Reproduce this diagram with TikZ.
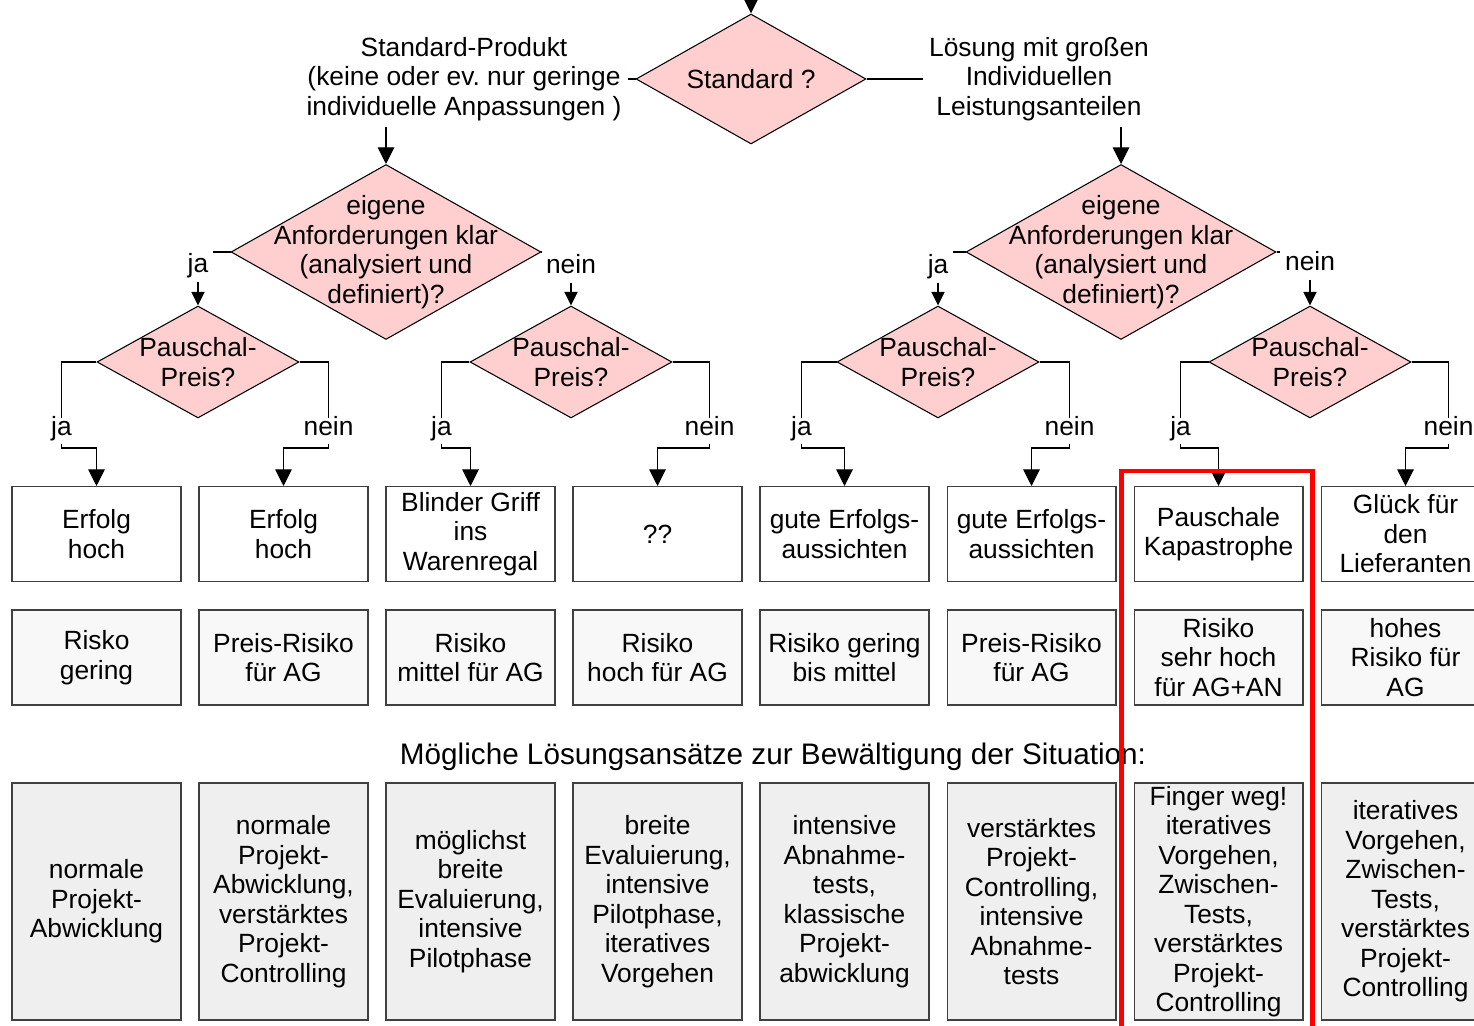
\documentclass[tikz,border=0pt]{standalone}
\usepackage{fontspec}
\setmainfont{Liberation Sans}
\usetikzlibrary{shapes.geometric,arrows.meta,calc}
\definecolor{rosa}{RGB}{255,207,207}
\definecolor{hellgrau}{RGB}{248,248,248}
\definecolor{mittelgrau}{RGB}{239,239,239}
\definecolor{rahmen}{RGB}{64,64,64}
\definecolor{hlrot}{RGB}{255,0,0}

\tikzset{
  frage/.style={diamond, draw, fill=rosa, inner sep=0pt, line width=0.6pt},
  ergebnis/.style={rectangle, draw=rahmen, line width=0.6pt, minimum width=3.38cm, minimum height=1.9cm, align=center, inner sep=0pt},
  risiko/.style={ergebnis, fill=hellgrau},
  ansatz/.style={ergebnis, fill=mittelgrau, minimum height=4.74cm},
  antwort/.style={fill=white, inner sep=2.5pt, text height=0.75em, text depth=0.25em},
  pfeil/.style={-{Triangle[length=9.5pt,width=9.5pt]}, line width=0.6pt},
  pfeilk/.style={-{Triangle[length=7.8pt,width=7.6pt]}, line width=0.6pt}
}

\begin{document}
\begin{tikzpicture}[x=0.02cm, y=-0.02cm, font=\fontsize{15}{16.8}\selectfont]
	\useasboundingbox (0,0) rectangle (1474,1026);

	% Entscheidungen
	\node[frage, minimum width=4.6cm, minimum height=2.6cm, label={center:Standard ?}] (std) at (751,79) {};
	\node[frage, minimum width=6.2cm, minimum height=3.5cm, label={[align=center]center:{eigene\\Anforderungen klar\\(analysiert und\\definiert)?}}] (eigL) at (386,252) {};
	\node[frage, minimum width=6.2cm, minimum height=3.5cm, label={[align=center]center:{eigene\\Anforderungen klar\\(analysiert und\\definiert)?}}] (eigR) at (1121,252) {};
	\node[frage, minimum width=4.04cm, minimum height=2.24cm, label={[align=center]center:{Pauschal-\\Preis?}}] (pA) at (198,362) {};
	\node[frage, minimum width=4.04cm, minimum height=2.24cm, label={[align=center]center:{Pauschal-\\Preis?}}] (pB) at (571,362) {};
	\node[frage, minimum width=4.04cm, minimum height=2.24cm, label={[align=center]center:{Pauschal-\\Preis?}}] (pC) at (938,362) {};
	\node[frage, minimum width=4.04cm, minimum height=2.24cm, label={[align=center]center:{Pauschal-\\Preis?}}] (pD) at (1310,362) {};

	\node[align=center] (stdtext) at (464,79) {Standard-Produkt\\(keine oder ev.\ nur geringe\\individuelle Anpassungen )};
	\node[align=center] (indtext) at (1039,79) {Lösung mit großen\\Individuellen\\Leistungsanteilen};

	\node[antwort] (jaL) at (198,268) {ja};
	\node[antwort] (neinL) at (571,269) {nein};
	\node[antwort] (jaR) at (938,269) {ja};
	\node[antwort] (neinR) at (1310,266) {nein};

	% Ergebnisse
	\node[ergebnis] (e1) at (96.5,534) {Erfolg\\hoch};
	\node[ergebnis] (e2) at (283.5,534) {Erfolg\\hoch};
	\node[ergebnis] (e3) at (470.5,534) {Blinder Griff\\ins\\Warenregal};
	\node[ergebnis] (e4) at (657.5,534) {??};
	\node[ergebnis] (e5) at (844.5,534) {gute Erfolgs-\\aussichten};
	\node[ergebnis] (e6) at (1031.5,534) {gute Erfolgs-\\aussichten};
	\node[ergebnis] (e7) at (1218.5,534) {Pauschale\\Kapastrophe};
	\node[ergebnis] (e8) at (1405.5,534) {Glück für\\den\\Lieferanten};

	\node[risiko] (r1) at (96.5,657.5) {Risko\\gering};
	\node[risiko] (r2) at (283.5,657.5) {Preis-Risiko\\für AG};
	\node[risiko] (r3) at (470.5,657.5) {Risiko\\mittel für AG};
	\node[risiko] (r4) at (657.5,657.5) {Risiko\\hoch für AG};
	\node[risiko] (r5) at (844.5,657.5) {Risiko gering\\bis mittel};
	\node[risiko] (r6) at (1031.5,657.5) {Preis-Risiko\\für AG};
	\node[risiko] (r7) at (1218.5,657.5) {Risiko\\sehr hoch\\für AG+AN};
	\node[risiko] (r8) at (1405.5,657.5) {hohes\\Risiko für\\AG};

	\node[font=\fontsize{16.9}{20}\selectfont] (loesung) at (773,757) {Mögliche Lösungsansätze zur Bewältigung der Situation:};

	\node[ansatz] (a1) at (96.5,901.5) {normale\\Projekt-\\Abwicklung};
	\node[ansatz] (a2) at (283.5,901.5) {normale\\Projekt-\\Abwicklung,\\verstärktes\\Projekt-\\Controlling};
	\node[ansatz] (a3) at (470.5,901.5) {möglichst\\breite\\Evaluierung,\\intensive\\Pilotphase};
	\node[ansatz] (a4) at (657.5,901.5) {breite\\Evaluierung,\\intensive\\Pilotphase,\\iteratives\\Vorgehen};
	\node[ansatz] (a5) at (844.5,901.5) {intensive\\Abnahme-\\tests,\\klassische\\Projekt-\\abwicklung};
	\node[ansatz] (a6) at (1031.5,901.5) {verstärktes\\Projekt-\\Controlling,\\intensive\\Abnahme-\\tests};
	\node[ansatz] (a7) at (1218.5,901.5) {Finger weg!\\iteratives\\Vorgehen,\\Zwischen-\\Tests,\\verstärktes\\Projekt-\\Controlling};
	\node[ansatz] (a8) at (1405.5,901.5) {iteratives\\Vorgehen,\\Zwischen-\\Tests,\\verstärktes\\Projekt-\\Controlling};

	% Verbindungen
	\coordinate (oben) at (751,-20);
	\draw[pfeilk] (oben) -- (std.north);
	\draw[line width=0.6pt] (std.west) -- (std.west -| stdtext.east);
	\draw[line width=0.6pt] (std.east) -- (std.east -| indtext.west);
	\draw[pfeil] (stdtext.south -| eigL.north) -- (eigL.north);
	\draw[pfeil] (indtext.south -| eigR.north) -- (eigR.north);

	\draw[line width=0.6pt] (eigL.west) -- (eigL.west -| jaL.east);
	\draw[line width=0.6pt] (eigL.east) -- (eigL.east -| neinL.west);
	\draw[line width=0.6pt] (eigR.west) -- (eigR.west -| jaR.east);
	\draw[line width=0.6pt] (eigR.east) -- (eigR.east -| neinR.west);
	\draw[pfeilk] (jaL.south) -- (pA.north);
	\draw[pfeilk] (neinL.south) -- (pB.north);
	\draw[pfeilk] (jaR.south) -- (pC.north);
	\draw[pfeilk] (neinR.south) -- (pD.north);

	\draw[pfeil] (pA.west) -- ++(-35,0) |- node[antwort, pos=0.4] (jaA) {ja} ($(e1.north)+(0,-38)$) -- (e1.north);
	\draw[pfeil] (pA.east) -- ++(29,0) |- node[antwort, pos=0.4] (neinA) {nein} ($(e2.north)+(0,-38)$) -- (e2.north);
	\draw[pfeil] (pB.west) -- ++(-28,0) |- node[antwort, pos=0.4] (jaB) {ja} ($(e3.north)+(0,-38)$) -- (e3.north);
	\draw[pfeil] (pB.east) -- ++(37,0) |- node[antwort, pos=0.4] (neinB) {nein} ($(e4.north)+(0,-38)$) -- (e4.north);
	\draw[pfeil] (pC.west) -- ++(-35,0) |- node[antwort, pos=0.4] (jaC) {ja} ($(e5.north)+(0,-38)$) -- (e5.north);
	\draw[pfeil] (pC.east) -- ++(30,0) |- node[antwort, pos=0.4] (neinC) {nein} ($(e6.north)+(0,-38)$) -- (e6.north);
	\draw[pfeil] (pD.west) -- ++(-28,0) |- node[antwort, pos=0.4] (jaD) {ja} ($(e7.north)+(0,-38)$) -- (e7.north);
	\draw[pfeil] (pD.east) -- ++(37,0) |- node[antwort, pos=0.4] (neinD) {nein} ($(e8.north)+(0,-38)$) -- (e8.north);

	% Hervorhebung
	\draw[hlrot, line width=2.8pt] (1121.5,1045) |- (1312.5,471) -- (1312.5,1045);
\end{tikzpicture}
\end{document}
